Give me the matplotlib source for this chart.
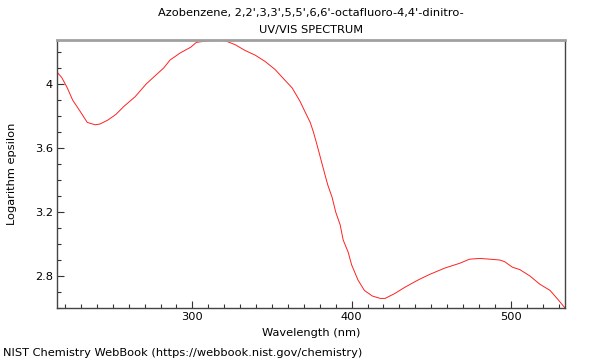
import numpy as np
import matplotlib
matplotlib.use('Agg')
import matplotlib.pyplot as plt
from matplotlib.ticker import MultipleLocator

# spectrum
wavelength = [215, 218, 221.5, 224.8, 229.8, 234, 239, 242, 247, 252, 257, 264,
              271, 277, 282, 286, 292.5, 299, 302.5, 309.4, 316, 320.7, 327, 333,
              339.5, 345.8, 352, 358, 362.7, 367.7, 370.8, 374, 376, 377.7, 380,
              382.8, 385, 387.8, 390, 392.8, 394.7, 397.8, 400, 404, 408, 413,
              418, 421, 427, 433.5, 441.7, 449, 458.6, 468, 474, 480.5, 487, 493,
              496, 501, 505.6, 512, 518, 524.6, 529, 534]
log_eps = [4.075, 4.04, 3.975, 3.9, 3.825, 3.76, 3.745, 3.75, 3.775, 3.81, 3.86, 3.92,
           4.0, 4.055, 4.1, 4.15, 4.195, 4.23, 4.26, 4.27, 4.275, 4.27, 4.245, 4.21,
           4.18, 4.14, 4.09, 4.025, 3.975, 3.89, 3.825, 3.76, 3.7, 3.64, 3.555,
           3.45, 3.37, 3.29, 3.2, 3.12, 3.025, 2.95, 2.87, 2.775, 2.71, 2.675,
           2.66, 2.66, 2.69, 2.73, 2.775, 2.81, 2.85, 2.88, 2.905, 2.91, 2.905, 2.9,
           2.89, 2.855, 2.84, 2.8, 2.75, 2.71, 2.66, 2.6]

title_lines = ["Azobenzene, 2,2',3,3',5,5',6,6'-octafluoro-4,4'-dinitro-", "UV/VIS SPECTRUM"]
fs = 8.2

fig = plt.figure(figsize=(6, 3.6), dpi=100)
ax = fig.add_axes([0.095, 0.1444, 0.8467, 0.7445])

ax.plot(wavelength, log_eps, color='#ff2020', linewidth=0.7)

ax.set_xlim(215, 534)
ax.set_ylim(2.6, 4.275)

ax.xaxis.set_major_locator(MultipleLocator(100))
ax.xaxis.set_minor_locator(MultipleLocator(10))
ax.yaxis.set_major_locator(MultipleLocator(0.4))
ax.yaxis.set_minor_locator(MultipleLocator(0.1))
ax.yaxis.set_major_formatter(plt.FuncFormatter(lambda v, p: ('%g' % round(v, 1))))

ax.tick_params(which='both', direction='in', top=False, right=False, labelsize=fs,
               color='#333333', width=0.8)
ax.tick_params(which='major', length=5, pad=3)
ax.tick_params(which='minor', length=3)

for side in ['left', 'bottom', 'right']:
    ax.spines[side].set_color('#444444')
    ax.spines[side].set_linewidth(1)
ax.spines['top'].set_color('#a0a0a0')
ax.spines['top'].set_linewidth(2)

ax.set_xlabel('Wavelength (nm)', fontsize=fs, labelpad=4)
ax.set_ylabel('Logarithm epsilon', fontsize=fs, labelpad=13)

# two title lines placed separately to match the spacing
fig.text(0.518, 1 - 13 / 360, title_lines[0], fontsize=fs, ha='center', va='center')
fig.text(0.518, 1 - 30 / 360, title_lines[1], fontsize=fs, ha='center', va='center')

fig.text(0.005, 0.012, 'NIST Chemistry WebBook (https://webbook.nist.gov/chemistry)', fontsize=fs)

plt.savefig('out.png', dpi=100)
